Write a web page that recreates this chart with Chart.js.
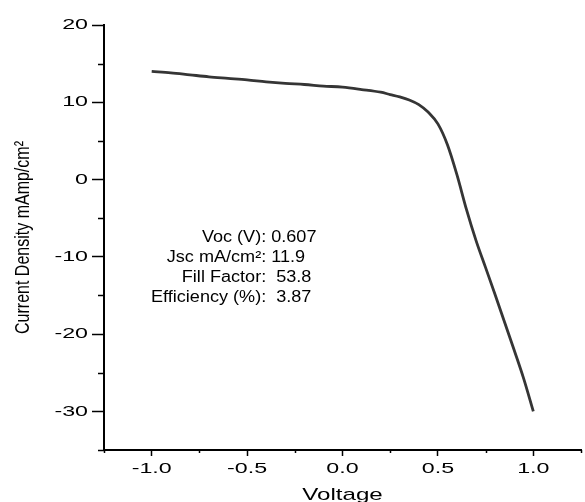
<!DOCTYPE html>
<html>
<head>
<meta charset="utf-8">
<script src="https://cdn.jsdelivr.net/npm/chart.js@4.4.0/dist/chart.umd.min.js"></script>
<style>
  html, body { margin: 0; padding: 0; background: #fff; }
  #wrap { width: 585px; height: 502px; }
</style>
</head>
<body>
<div id="wrap"><canvas id="myChart"></canvas></div>
<script>
// J-V curve
var voltage = [-1.0, -0.9, -0.8, -0.7, -0.6, -0.5, -0.4, -0.3, -0.2, -0.1, 0.0, 0.1, 0.2, 0.25, 0.3, 0.35, 0.4, 0.45, 0.5, 0.55, 0.6, 0.65, 0.7, 0.75, 0.8, 0.85, 0.9, 0.95, 1.0];
var current = [14.0, 13.8, 13.55, 13.3, 13.1, 12.9, 12.65, 12.45, 12.3, 12.1, 11.95, 11.65, 11.3, 11.0, 10.7, 10.3, 9.7, 8.7, 7.2, 4.5, 0.6, -3.9, -7.9, -11.4, -14.9, -18.5, -22.1, -25.8, -30.0];

var infoLabels = ["Voc (V):", "Jsc mA/cm\u00B2:", "Fill Factor:", "Efficiency (%):"];
var infoValues = ["0.607", "11.9", " 53.8", " 3.87"];
var infoAt = { x: -0.40, y: [-7.5, -10.1, -12.7, -15.3] };

var tickFont = { family: "'Liberation Sans', Arial, sans-serif", size: 15 };

// the picture is stretched sideways: widen text by font size
var widen = { 15: 1.55, 16: 1.13, 17: 1.42 };
var widenRotated = 1.3;

var stretchText = {
    id: 'stretchText',
    beforeDraw(chart) {
        var ctx = chart.ctx;
        var orig = CanvasRenderingContext2D.prototype.fillText;
        ctx.fillText = function(text, x, y) {
            var m = /(\d+(\.\d+)?)px/.exec(this.font);
            var size = m ? Math.round(parseFloat(m[1])) : 12;
            var t = this.getTransform();
            this.save();
            this.translate(x, y);
            if (Math.abs(t.b) > 0.01) this.scale(1, widenRotated);
            else this.scale(widen[size] || 1, 1);
            orig.call(this, text, 0, 0);
            this.restore();
        };
    },
    afterDraw(chart) { delete chart.ctx.fillText; }
};

// short minor ticks + text block
var extras = {
    id: 'extras',
    afterDraw(chart) {
        var ctx = chart.ctx;
        var xs = chart.scales.x, ys = chart.scales.y;
        var area = chart.chartArea;
        ctx.save();
        ctx.strokeStyle = '#000';
        ctx.lineWidth = 1.5;
        ys.ticks.forEach(function(t) {
            if (Math.abs(t.value % 10) > 0.001) {
                var py = Math.round(ys.getPixelForValue(t.value)) + 0.5;
                ctx.beginPath(); ctx.moveTo(area.left - 6, py); ctx.lineTo(area.left, py); ctx.stroke();
            }
        });
        xs.ticks.forEach(function(t) {
            if (Math.abs((t.value * 2) % 1) > 0.001) {
                var px = Math.round(xs.getPixelForValue(t.value)) + 0.5;
                ctx.beginPath(); ctx.moveTo(px, area.bottom); ctx.lineTo(px, area.bottom + 3); ctx.stroke();
            }
        });
        ctx.fillStyle = '#000';
        ctx.font = "16px 'Liberation Sans', Arial, sans-serif";
        ctx.textBaseline = 'middle';
        var cx = xs.getPixelForValue(infoAt.x);
        for (var i = 0; i < infoLabels.length; i++) {
            var py = ys.getPixelForValue(infoAt.y[i]);
            ctx.textAlign = 'right';
            ctx.fillText(infoLabels[i], cx, py);
            ctx.textAlign = 'left';
            ctx.fillText(' ' + infoValues[i], cx, py);
        }
        ctx.restore();
    }
};

new Chart("myChart", {
    type: "line",
    data: {
        datasets: [{
            data: voltage.map(function(v, i) { return { x: v, y: current[i] }; }),
            borderColor: "#353535",
            borderWidth: 2.8,
            pointRadius: 0,
            cubicInterpolationMode: 'monotone',
            fill: false
        }]
    },
    options: {
        responsive: true,
        maintainAspectRatio: false,
        animation: false,
        layout: { padding: { top: 25, right: 1, left: 0, bottom: 0 } },
        plugins: { legend: { display: false }, tooltip: { enabled: false } },
        scales: {
            x: {
                type: 'linear',
                min: -1.25, max: 1.25,
                afterFit: function(s) { s.height = 52; },
                border: { color: '#000', width: 2 },
                grid: {
                    drawOnChartArea: false,
                    tickLength: 6,
                    tickWidth: 1.5,
                    tickColor: function(c) { return Math.abs((c.tick.value * 2) % 1) > 0.001 ? 'rgba(0,0,0,0)' : '#000'; }
                },
                ticks: {
                    stepSize: 0.25,
                    autoSkip: false,
                    maxRotation: 0,
                    padding: 4,
                    color: '#000',
                    font: tickFont,
                    callback: function(v) { return Math.abs((v * 2) % 1) > 0.001 ? '' : v.toFixed(1); }
                },
                title: {
                    display: true,
                    text: 'Voltage',
                    color: '#000',
                    font: { family: "'Liberation Sans', Arial, sans-serif", size: 17, lineHeight: 0.8 },
                    padding: 0
                }
            },
            y: {
                min: -35, max: 20,
                afterFit: function(s) { s.width = 104; },
                border: { color: '#000', width: 2 },
                grid: {
                    drawOnChartArea: false,
                    tickLength: 12,
                    tickWidth: 1.5,
                    tickColor: function(c) { return Math.abs(c.tick.value % 10) > 0.001 ? 'rgba(0,0,0,0)' : '#000'; }
                },
                ticks: {
                    stepSize: 5,
                    autoSkip: false,
                    padding: 4,
                    color: '#000',
                    font: tickFont,
                    callback: function(v) { return Math.abs(v % 10) > 0.001 ? '' : v; }
                },
                title: {
                    display: true,
                    text: 'Current Density mAmp/cm\u00B2',
                    color: '#000',
                    font: { family: "'Liberation Sans', Arial, sans-serif", size: 16, lineHeight: 1.2 },
                    padding: { top: 14, bottom: 0 }
                }
            }
        }
    },
    plugins: [extras, stretchText]
});
</script>
</body>
</html>
